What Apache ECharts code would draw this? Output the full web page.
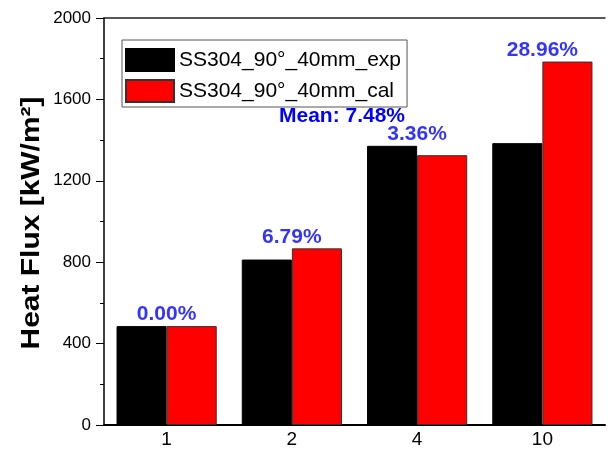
<!DOCTYPE html>
<html>
<head>
<meta charset="utf-8">
<script src="https://cdn.jsdelivr.net/npm/echarts@6/dist/echarts.min.js"></script>
<style>html,body{margin:0;padding:0;background:#fff}#c{width:609px;height:449px}</style>
</head>
<body>
<div id="c"></div>
<script>
var categories = ['1', '2', '4', '10'];
var expValues = [486, 813, 1372, 1385];
var calValues = [486, 868, 1326, 1786];
var diffLabels = ['0.00%', '6.79%', '3.36%', '28.96%'];
var meanLabel = 'Mean: 7.48%';
var yTicks = [0, 400, 800, 1200, 1600, 2000];
var seriesNames = ['SS304_90\u00b0_40mm_exp', 'SS304_90\u00b0_40mm_cal'];
var yTitle = 'Heat Flux [kW/m\u00b2]';

var FONT = 'Arial, "Liberation Sans", sans-serif';
var chart = echarts.init(document.getElementById('c'), null, {renderer: 'canvas'});

var labelPoints = categories.map(function (c, i) {
  return [c, Math.max(expValues[i], calValues[i])];
});

chart.setOption({
  animation: false,
  backgroundColor: '#fff',
  grid: {left: 104, top: 18, right: 4, bottom: 21, containLabel: false},
  legend: {
    orient: 'vertical',
    left: 122, top: 40,
    padding: [8, 6, 4, 3],
    itemGap: 7,
    itemWidth: 48, itemHeight: 22,
    icon: 'rect',
    borderColor: '#555', borderWidth: 1,
    textStyle: {fontFamily: FONT, fontSize: 21, color: '#000', padding: [0, 0, 0, 0]},
    data: seriesNames
  },
  xAxis: [{
    type: 'category', data: categories, position: 'bottom',
    axisLine: {lineStyle: {color: '#000', width: 2}},
    axisTick: {show: false},
    axisLabel: {fontFamily: FONT, fontSize: 19, color: '#000', margin: 5}
  }, {
    type: 'category', data: categories, position: 'top',
    axisLine: {lineStyle: {color: '#222', width: 1.5}},
    axisTick: {show: false}, axisLabel: {show: false}
  }],
  yAxis: {
    type: 'value', min: yTicks[0], max: yTicks[yTicks.length - 1], interval: 400,
    axisLine: {show: true, lineStyle: {color: '#000', width: 1.5}},
    axisTick: {show: true, length: 8, lineStyle: {color: '#000', width: 1}},
    minorTick: {show: true, splitNumber: 2, length: 4, lineStyle: {color: '#000', width: 1}},
    splitLine: {show: false},
    axisLabel: {fontFamily: FONT, fontSize: 17, color: '#000', margin: 13,
      formatter: function (v) { return String(v); }}
  },
  series: [{
    name: seriesNames[0], type: 'bar', data: expValues,
    barGap: '0%', barCategoryGap: '20%',
    itemStyle: {color: '#000', borderColor: '#000', borderWidth: 1}
  }, {
    name: seriesNames[1], type: 'bar', data: calValues,
    barGap: '0%', barCategoryGap: '20%',
    itemStyle: {color: '#ff0000', borderColor: '#333', borderWidth: 1}
  }, {
    name: 'diff', type: 'scatter', data: labelPoints, symbolSize: 0,
    silent: true,
    label: {
      show: true, position: 'top', distance: 1,
      formatter: function (p) { return diffLabels[p.dataIndex]; },
      fontFamily: FONT, fontSize: 21, fontWeight: 'bold', color: '#0000ff'
    }
  }],
  graphic: [{
    type: 'text', x: 342, y: 116,
    style: {text: meanLabel, font: 'bold 21px ' + FONT, fill: '#0000ff', textAlign: 'center', textVerticalAlign: 'middle'}
  }, {
    type: 'text', x: 32, y: 223, rotation: Math.PI / 2, scaleX: 1.07, scaleY: 0.9,
    style: {text: yTitle, font: 'bold 28px ' + FONT, fill: '#000', textAlign: 'center', textVerticalAlign: 'middle'}
  }]
});
</script>
</body>
</html>
